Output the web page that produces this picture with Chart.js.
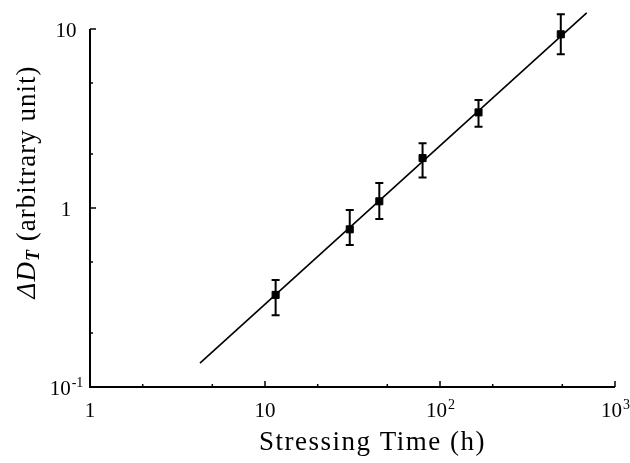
<!DOCTYPE html>
<html lang="en">
  <head>
    <meta charset="UTF-8" />
    <title>Stressing Time</title>
    <script src="https://cdn.jsdelivr.net/npm/chart.js"></script>
    <style>
      body { margin: 0; background: #fff; }
      .graficar { width: 630px; height: 463px; position: relative; }
    </style>
  </head>
  <body>
    <div class="graficar">
      <canvas id="myChart"></canvas>
    </div>

    <script>
      // measured points (h, arbitrary unit)
      const stressTime = [11.5, 30.5, 45, 79.5, 166, 490];
      const deltaD = [0.327, 0.76, 1.09, 1.9, 3.42, 9.34];
      const errLow = [0.252, 0.621, 0.868, 1.48, 2.84, 7.22];
      const errHigh = [0.396, 0.975, 1.38, 2.3, 4.01, 12.1];

      // fitted line ends
      const fitTime = [4.25, 689];
      const fitValue = [0.136, 12.3];

      // axes
      const xMajor = [1, 10, 100, 1000];
      const xMajorLabels = ["1", "10", "10^2", "10^3"];
      const xMinor = [2, 5, 20, 50, 200, 500];
      const yMajor = [0.1, 1, 10];
      const yMajorLabels = ["10^-1", "1", "10"];
      const yMinor = [0.2, 0.5, 2, 5];

      const serif = "'Liberation Serif', 'Times New Roman', serif";

      function drawPow(ctx, label, x, y) {
        const parts = label.split("^");
        ctx.font = "21px " + serif;
        const wBase = ctx.measureText(parts[0]).width;
        let wExp = 0;
        if (parts[1]) {
          ctx.font = "14px " + serif;
          wExp = ctx.measureText(parts[1]).width;
        }
        const x0 = x - (wBase + wExp) / 2;
        ctx.textAlign = "left";
        ctx.textBaseline = "alphabetic";
        ctx.font = "21px " + serif;
        ctx.fillText(parts[0], x0, y);
        if (parts[1]) {
          ctx.font = "14px " + serif;
          ctx.fillText(parts[1], x0 + wBase + 1, y - 8);
        }
      }

      const axesPlugin = {
        id: "axesPlugin",
        afterDatasetsDraw(chart) {
          const ctx = chart.ctx;
          const xs = chart.scales.x;
          const ys = chart.scales.y;
          const a = chart.chartArea;
          ctx.save();
          ctx.strokeStyle = "#000";
          ctx.fillStyle = "#000";

          // error bars
          ctx.lineWidth = 2;
          stressTime.forEach((t, i) => {
            const px = xs.getPixelForValue(t);
            const top = ys.getPixelForValue(errHigh[i]);
            const bot = ys.getPixelForValue(errLow[i]);
            ctx.beginPath();
            ctx.moveTo(px, top);
            ctx.lineTo(px, bot);
            ctx.moveTo(px - 4, top);
            ctx.lineTo(px + 4, top);
            ctx.moveTo(px - 4, bot);
            ctx.lineTo(px + 4, bot);
            ctx.stroke();
          });

          // axis lines
          ctx.lineWidth = 2;
          ctx.beginPath();
          ctx.moveTo(a.left, a.top);
          ctx.lineTo(a.left, a.bottom);
          ctx.lineTo(a.right, a.bottom);
          ctx.stroke();

          // inward ticks
          ctx.lineWidth = 1.5;
          ctx.beginPath();
          xMajor.forEach((v) => {
            const px = xs.getPixelForValue(v);
            ctx.moveTo(px, a.bottom);
            ctx.lineTo(px, a.bottom - 6);
          });
          xMinor.forEach((v) => {
            const px = xs.getPixelForValue(v);
            ctx.moveTo(px, a.bottom);
            ctx.lineTo(px, a.bottom - 3);
          });
          yMajor.forEach((v) => {
            const py = ys.getPixelForValue(v);
            ctx.moveTo(a.left, py);
            ctx.lineTo(a.left + 6, py);
          });
          yMinor.forEach((v) => {
            const py = ys.getPixelForValue(v);
            ctx.moveTo(a.left, py);
            ctx.lineTo(a.left + 3, py);
          });
          ctx.stroke();

          // tick labels
          xMajor.forEach((v, i) => {
            drawPow(ctx, xMajorLabels[i], xs.getPixelForValue(v), a.bottom + 30);
          });
          yMajor.forEach((v, i) => {
            drawPow(ctx, yMajorLabels[i], a.left - 24, ys.getPixelForValue(v) + 8);
          });

          // x title
          ctx.font = "27px " + serif;
          ctx.letterSpacing = "1.5px";
          ctx.textAlign = "center";
          ctx.textBaseline = "alphabetic";
          ctx.fillText("Stressing Time (h)", (a.left + a.right) / 2 + 20, a.bottom + 63);

          // y title
          ctx.letterSpacing = "1px";
          ctx.translate(28, 182);
          ctx.rotate(-Math.PI / 2);
          const segs = [
            { t: "\u0394", f: "italic 27px " + serif, dy: 0 },
            { t: "D", f: "italic 27px " + serif, dy: 0 },
            { t: "T", f: "italic bold 18px " + serif, dy: 6 },
            { t: " (arbitrary unit)", f: "27px " + serif, dy: 0 },
          ];
          let total = 0;
          segs.forEach((s) => {
            ctx.font = s.f;
            s.w = ctx.measureText(s.t).width;
            total += s.w;
          });
          let cx = -total / 2;
          ctx.textAlign = "left";
          ctx.textBaseline = "middle";
          segs.forEach((s) => {
            ctx.font = s.f;
            ctx.fillText(s.t, cx, s.dy);
            cx += s.w;
          });
          ctx.restore();
        },
      };

      const data = {
        datasets: [
          {
            label: "fit",
            data: fitTime.map((t, i) => ({ x: t, y: fitValue[i] })),
            showLine: true,
            borderColor: "#000",
            borderWidth: 1.6,
            pointRadius: 0,
            clip: false,
          },
          {
            label: "measured",
            data: stressTime.map((t, i) => ({ x: t, y: deltaD[i] })),
            showLine: false,
            pointStyle: "rect",
            pointRadius: 5,
            backgroundColor: "#000",
            borderColor: "#000",
            clip: false,
          },
        ],
      };

      const config = {
        type: "scatter",
        data: data,
        plugins: [axesPlugin],
        options: {
          responsive: true,
          maintainAspectRatio: false,
          animation: false,
          layout: { padding: { left: 90, right: 15, top: 29, bottom: 76 } },
          plugins: { legend: { display: false }, tooltip: { enabled: false } },
          scales: {
            x: { type: "logarithmic", min: 1, max: 1000, display: false },
            y: { type: "logarithmic", min: 0.1, max: 10, display: false },
          },
        },
      };

      const myChart = new Chart(document.getElementById("myChart"), config);
    </script>
  </body>
</html>
